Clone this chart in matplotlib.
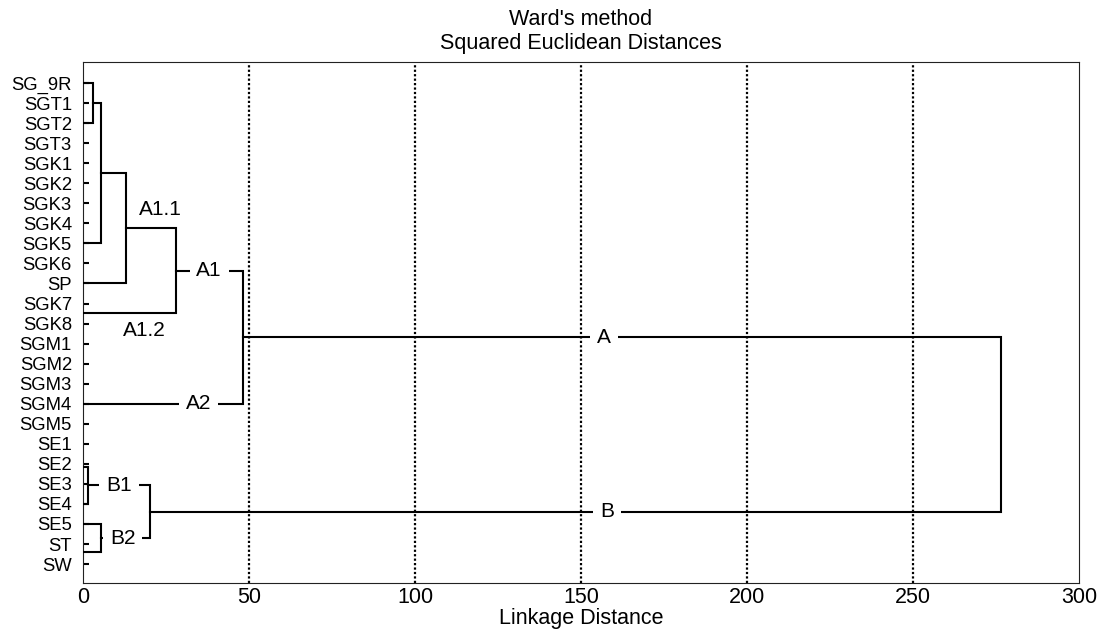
import matplotlib
matplotlib.use("Agg")
import matplotlib.pyplot as plt

plt.rcParams['font.family'] = ['Liberation Sans', 'DejaVu Sans']

# Leaf labels (top to bottom)
labels = ["SG_9R", "SGT1", "SGT2", "SGT3", "SGK1", "SGK2", "SGK3", "SGK4",
          "SGK5", "SGK6", "SP", "SGK7", "SGK8", "SGM1", "SGM2", "SGM3",
          "SGM4", "SGM5", "SE1", "SE2", "SE3", "SE4", "SE5", "ST", "SW"]

# Merges: children are leaf positions (numbers) or earlier node names
node_names = ["n1", "n2", "A1.1", "A1", "A", "B1", "B2", "B", "root"]
node_left = [0.0, "n1", "n2", "A1.1", "A1", 19.15, 22.0, "B1", "A"]
node_right = [2.0, 8.0, 10.0, 11.46, 16.0, 21.0, 23.4, "B2", "B"]
node_height = [2.95, 5.5, 13.0, 28.1, 48.2, 1.45, 5.3, 20.25, 276.4]

# Cluster annotations
ann_text = ["A1.1", "A1.2", "A1", "A2", "A", "B", "B1", "B2"]
ann_x = [23.2, 18.4, 38.0, 34.7, 156.9, 157.8, 10.85, 11.9]
ann_y = [6.29, 12.35, 9.375, 16.0, 12.69, 21.39, 20.07, 22.7]
ann_box = [False, False, True, True, True, True, True, True]

xticks = [0, 50, 100, 150, 200, 250, 300]

fig = plt.figure(figsize=(11.07, 6.37), dpi=100)
ax = fig.add_axes([0.075, 0.0852, 0.8997, 0.8175])

pos = {}
hgt = {}


def resolve(c):
    if isinstance(c, str):
        return pos[c], hgt[c]
    return float(c), 0.0


for name, l, r, h in zip(node_names, node_left, node_right, node_height):
    yl, hl = resolve(l)
    yr, hr = resolve(r)
    ax.plot([hl, h, h, hr], [yl, yl, yr, yr], color='black', lw=1.5,
            solid_joinstyle='miter', zorder=3)
    pos[name] = (yl + yr) / 2.0
    hgt[name] = h

for t, x, y, b in zip(ann_text, ann_x, ann_y, ann_box):
    kw = {}
    if b:
        kw['bbox'] = dict(boxstyle='square,pad=0.33', facecolor='white',
                          edgecolor='none')
    ax.text(x, y, t, ha='center', va='center', fontsize=15, zorder=5, **kw)

ax.set_xlim(0, 300)
ax.set_ylim(24.93, -1.05)
ax.set_yticks(range(len(labels)))
ax.set_yticklabels(labels, fontsize=13.3)
ax.set_xticks(xticks)
ax.set_xticklabels([str(v) for v in xticks], fontsize=15.5)
ax.tick_params(axis='y', direction='in', length=4, width=1.5, pad=8)
ax.tick_params(axis='x', length=0, pad=3)
for s in ax.spines.values():
    s.set_linewidth(0.8)
    s.set_color('#222222')

for v in xticks[1:-1]:
    ax.axvline(v, color='black', lw=1.6, linestyle=(0, (1, 1)), zorder=2)

ax.set_xlabel("Linkage Distance", fontsize=15.5, labelpad=0)
ax.set_title("Ward's method\nSquared Euclidean Distances", fontsize=15.5,
             pad=9, linespacing=1.2)

fig.savefig("out.png", dpi=100)
